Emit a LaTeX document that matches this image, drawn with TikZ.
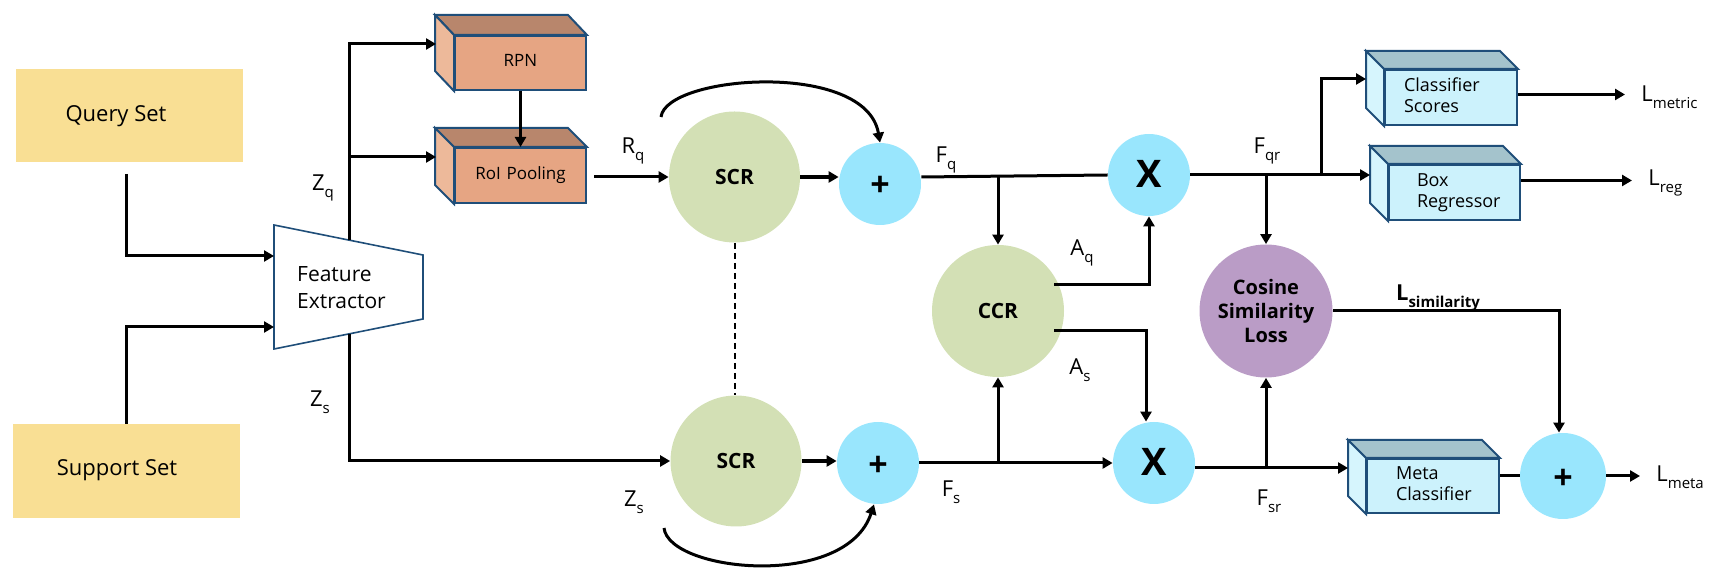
\documentclass[tikz,border=0pt]{standalone}
\usepackage{fontspec}
\setmainfont{Open Sans}
\usetikzlibrary{arrows.meta,shapes.geometric,calc}
\definecolor{qyellow}{HTML}{F9DF94}
\definecolor{navy}{HTML}{1F4E79}
\definecolor{orfront}{HTML}{E6A583}
\definecolor{ortop}{HTML}{B8866C}
\definecolor{orside}{HTML}{EDB99A}
\definecolor{blfront}{HTML}{CCF2FC}
\definecolor{bltop}{HTML}{A4C3CC}
\definecolor{blside}{HTML}{D6F5FD}
\definecolor{sgreen}{HTML}{D3E0B5}
\definecolor{lblue}{HTML}{99E6FD}
\definecolor{lpurple}{HTML}{BA9CC6}
\newcommand{\lsub}[2]{#1\raisebox{-0.32em}{\fontsize{7.5}{8}\selectfont #2}}
\newcommand{\cubebox}[9]{%
  \node[#7front, text width=#3, minimum height=#4, inner xsep=0pt, inner ysep=0pt] (#1) at #2 {\hspace*{#8}\begin{tabular}{@{}l@{}}#9\end{tabular}};
  \filldraw[#7top] (#1.north west) -- ++(-#5,-#6) -- ([shift={(-#5,-#6)}]#1.north east) -- (#1.north east) -- cycle;
  \filldraw[#7side] (#1.north west) -- ++(-#5,-#6) -- ([shift={(-#5,-#6)}]#1.south west) -- (#1.south west) -- cycle;
  \coordinate (#1-b) at ([shift={(-#5,-#6)}]#1.north west);
}
\tikzset{
  conn/.style={line width=1.5pt},
  arr/.style={conn,-{Triangle[length=5pt,width=5.5pt]}},
  thickarr/.style={line width=2pt,-{Triangle[length=5pt,width=5.5pt]}},
  lab/.style={font=\fontsize{11}{13}\selectfont, inner sep=0pt},
  setbox/.style={fill=qyellow, draw=none},
  setlab/.style={font=\fontsize{11}{13}\selectfont},
  orfront/.style={fill=orfront, draw=navy, line width=1pt, align=center, font=\fontsize{8.5}{10}\selectfont},
  ortop/.style={fill=ortop, draw=navy, line width=1pt},
  orside/.style={fill=orside, draw=navy, line width=1pt},
  blfront/.style={fill=blfront, draw=navy, line width=1pt, align=left, font=\fontsize{9}{10.5}\selectfont},
  bltop/.style={fill=bltop, draw=navy, line width=1pt},
  blside/.style={fill=blside, draw=navy, line width=1pt},
  bigcirc/.style={circle, fill=sgreen, inner sep=0pt, minimum size=65.5pt, font=\bfseries\fontsize{10.5}{12}\selectfont},
  opcirc/.style={circle, fill=lblue, inner sep=0pt, minimum size=41pt},
  plustxt/.style={font=\bfseries\fontsize{17}{17}\selectfont},
  xtxt/.style={font=\bfseries\fontsize{19}{19}\selectfont},
  loss/.style={font=\fontsize{11}{13}\selectfont, anchor=west, inner xsep=8pt, inner ysep=0pt},
}
\begin{document}
\begin{tikzpicture}[x=0.5pt,y=-0.5pt]
\useasboundingbox (0,0) rectangle (1714,576);

% input sets
\node[setbox, minimum width=113.5pt, minimum height=46.5pt] (query) at (129.5,115.5) {};
\node[setlab] (qtxt) at (116,116) {Query Set};
\node[setbox, minimum width=113.5pt, minimum height=47pt] (support) at (126.5,471) {};
\node[setlab] (stxt) at (117,470) {Support Set};

% feature extractor
\draw[navy, line width=0.8pt, fill=white] (274,225) -- (423,255) -- (423,319) -- (274,349) -- cycle;
\node[align=left, font=\fontsize{10.5}{13.5}\selectfont] (fe) at (341.5,288) {Feature\\Extractor};
\coordinate (fein1) at (274,256);
\coordinate (fein2) at (274,327);
\coordinate (qstart) at (126,174);
\coordinate (zqs) at (349,240);
\coordinate (zss) at (349,334);

% RPN and RoI
\cubebox{rpn}{(520.5,63)}{65.5pt}{27pt}{19}{20}{or}{0pt}{RPN}
\cubebox{roi}{(520.5,175.5)}{65.5pt}{27.5pt}{19}{19}{or}{0pt}{RoI Pooling}
\coordinate (rpnin) at (436,44);
\coordinate (roiin) at (436,157);

% heads
\cubebox{cls}{(1451,97.5)}{66pt}{27.5pt}{18}{18}{bl}{9.5pt}{Classifier\\Scores}
\cubebox{breg}{(1454.5,192.5)}{65.5pt}{27.5pt}{18}{18}{bl}{14pt}{Box\\Regressor}
\cubebox{meta}{(1433,486)}{66pt}{27pt}{18}{18}{bl}{14.5pt}{Meta\\Classifier}

% circles
\node[bigcirc] (scrq) at (734.5,177) {SCR};
\node[bigcirc] (scrs) at (736,461) {SCR};
\node[bigcirc, minimum size=66pt] (ccr) at (998,311) {CCR};
\node[opcirc] (plusq) at (880,184) {}; \node[plustxt] at (880,186) {+};
\node[opcirc] (pluss) at (878,463) {}; \node[plustxt] at (878,466) {+};
\node[opcirc] (xq) at (1149,175) {}; \node[xtxt] at (1149,174) {X};
\node[opcirc] (xs) at (1154,463) {}; \node[xtxt] at (1154,462) {X};
\node[circle, fill=lpurple, inner sep=0pt, minimum size=66.5pt, align=center,
      font=\bfseries\fontsize{10}{12}\selectfont] (cos) at (1266,311) {Cosine\\Similarity\\Loss};
\node[opcirc, minimum size=43pt] (plusm) at (1563,476) {};
\node[plustxt] at (1563,479) {+};

% connectors left
\draw[arr] (qstart) |- (fein1);
\draw[arr] (support.north) |- (fein2);
\draw[arr] (zqs) |- (rpnin);
\draw[arr] (zqs |- roiin) -- (roiin);
\draw[arr] (rpn.south) -- (roi.north);
\draw[arr] (zss) |- (scrs.west);
\draw[arr] ($(scrq.west -| roi.east)+(7,0)$) -- (scrq.west);
\draw[thickarr] (scrq.east) -- (scrq.east -| plusq.west);
\draw[thickarr] (scrs.east) -- (scrs.east -| pluss.west);
\draw[line width=1pt, dash pattern=on 3pt off 2pt] (scrq.south) -- (scrq.south |- scrs.north);
\coordinate (c1s) at (661,117);
\coordinate (c2s) at (664,528);
\draw[arr] (c1s) .. controls (666,75) and (866,60) .. (plusq.north);
\draw[arr] (c2s) .. controls (669,572) and (846,590) .. ($(pluss.south)+(-4,0)$);

% middle
\draw[conn] ($(plusq.east)+(0,-7)$) -- (xq.west);
\draw[arr] (ccr.north |- xq.west) -- (ccr.north);
\draw[arr] ($(ccr.east)+(-10,-26)$) -| (xq.south);
\draw[arr] ($(ccr.east)+(-10,20)$) -| ($(xs.north)+(-8,0)$);
\draw[arr] (pluss.east) -- (xs.west);
\draw[arr] (ccr.south |- pluss.east) -- (ccr.south);

% right
\draw[arr] (xq.east) -- (xq.east -| breg-b);
\draw[arr] (xq.east -| 1321,0) |- ($(cls-b)+(0,28)$);
\draw[arr] (cos.north |- xq.east) -- (cos.north);
\draw[arr] (cos.east) -| ($(plusm.north)+(-4,0)$);
\coordinate (fsr0) at ($(xs.east)+(0,5)$);
\draw[arr] (fsr0) -- (fsr0 -| meta-b);
\draw[arr] (fsr0 -| cos.south) -- (cos.south);
\draw[conn] (plusm.west -| meta.east) -- (plusm.west);

% loss labels
\node[loss] (lmetric) at (1625,97) {\lsub{L}{metric}};
\node[loss] (lreg) at (1632,183) {\lsub{L}{reg}};
\node[loss] (lmeta) at (1640,477) {\lsub{L}{meta}};
\coordinate (lm0) at ($(cls.east)+(0,-3)$);
\draw[arr] (lm0) -- (lm0 -| lmetric.west);
\coordinate (lr0) at ($(breg.east)+(0,-12)$);
\draw[arr] (lr0) -- (lr0 -| lreg.west);
\draw[arr] (plusm.east) -- (plusm.east -| lmeta.west);

% edge labels
\node[lab] (zq) at (323,188) {\lsub{Z}{q}};
\node[lab] (zs1) at (320,402) {\lsub{Z}{s}};
\node[lab] (zs2) at (634,502) {\lsub{Z}{s}};
\node[lab] (rq) at (633,151) {\lsub{R}{q}};
\node[lab] (fq) at (946,160) {\lsub{F}{q}};
\node[lab] (fs) at (951,492) {\lsub{F}{s}};
\node[lab] (aq) at (1082,253) {\lsub{A}{q}};
\node[lab] (as) at (1080,370) {\lsub{A}{s}};
\node[lab] (fqr) at (1267,151) {\lsub{F}{qr}};
\node[lab] (fsr) at (1269,501) {\lsub{F}{sr}};
\node[lab, font=\bfseries\fontsize{11}{13}\selectfont] (lsim) at (1438,298) {\lsub{L}{\bfseries similarity}};
\end{tikzpicture}
\end{document}
